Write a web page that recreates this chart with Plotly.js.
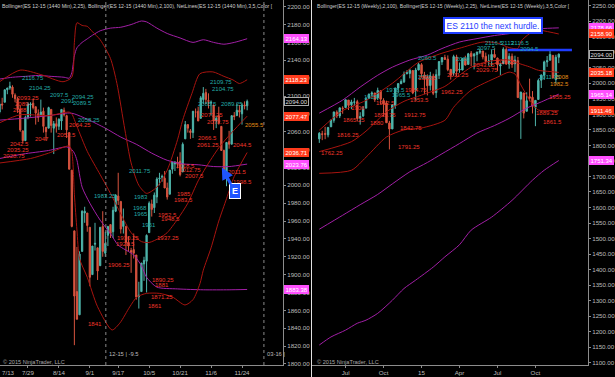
<!DOCTYPE html>
<html><head><meta charset="utf-8">
<script src="https://cdn.plot.ly/plotly-3.0.1.min.js"></script>
<style>html,body{margin:0;padding:0;background:#000;}#chart{width:615px;height:377px;}</style>
</head><body><div id="chart"></div>
<script>
// ---------------- LEFT PANEL: ES 12-15 daily (1440 Min) ----------------
const leftDates = ['7/14','7/15','7/16','7/17','7/20','7/21','7/22','7/23','7/24','7/27','7/28','7/29','7/30','7/31',
'8/3','8/4','8/5','8/6','8/7','8/10','8/11','8/12','8/13','8/14','8/17','8/18','8/19','8/20','8/21','8/24','8/25','8/26','8/27','8/28','8/31',
'9/1','9/2','9/3','9/4','9/8','9/9','9/10','9/11','9/14','9/15','9/16','9/17','9/18','9/21','9/22','9/23','9/24','9/25','9/28','9/29','9/30',
'10/1','10/2','10/5','10/6','10/7','10/8','10/9','10/12','10/13','10/14','10/15','10/16','10/19','10/20','10/21','10/22','10/23','10/26','10/27','10/28','10/29','10/30',
'11/2','11/3','11/4','11/5','11/6','11/9','11/10','11/11','11/12','11/13','11/16','11/17','11/18','11/19','11/20','11/23','11/24','11/25','11/27'];
const leftOpen = [2082,2091,2093,2107,2109,2110,2101,2097,2085,2061,2050,2076,2090,2092,
2088,2080,2079,2083,2065,2064,2085,2064,2069,2066,2072,2084,2078,2059,2017,1949,1881,1855,1926,1969,1969,
1953,1900,1934,1930,1910,1954,1924,1944,1956,1948,1971,1988,1982,1954,1954,1936,1927,1928,1922,1875,1881,
1912,1915,1947,1979,1975,1987,2007,2009,2008,1997,1990,2018,2024,2026,2027,2015,2052,2068,2061,2059,2082,2083,
2075,2096,2104,2095,2092,2090,2072,2078,2066,2039,2012,2049,2046,2078,2078,2084,2080,2090,2089];
const leftHigh = [2094,2098,2107,2109,2116,2112,2103,2099,2089,2061,2078,2093,2093,2097,
2088,2085,2096,2087,2065,2088,2085,2072,2076,2075,2085,2087,2079,2059,2017,1949,1931,1926,1972,1976,1969,
1953,1932,1958,1930,1953,1971,1948,1954,1956,1976,1990,2014,1982,1974,1954,1943,1930,1946,1922,1892,1913,
1920,1945,1982,1984,1992,2009,2014,2012,2016,2003,2017,2026,2027,2032,2037,2048,2072,2068,2063,2083,2086,2088,
2100,2110,2108,2103,2095,2090,2078,2088,2066,2040,2048,2061,2078,2082,2092,2090,2092,2094,2096];
const leftLow = [2080,2085,2093,2102,2107,2098,2093,2081,2060,2047,2050,2074,2077,2085,
2068,2071,2079,2059,2050,2064,2059,2035,2059,2062,2062,2077,2053,2018,1953,1821,1850,1855,1926,1958,1948,
1887,1900,1927,1894,1910,1920,1920,1932,1941,1941,1970,1978,1946,1946,1922,1926,1902,1918,1872,1862,1881,
1893,1880,1947,1965,1969,1980,2000,2004,1997,1984,1990,2013,2016,2019,2010,2015,2052,2059,2052,2053,2076,2072,
2075,2091,2091,2086,2078,2062,2064,2068,2039,2016,1999,2041,2046,2073,2078,2076,2068,2085,2084];
const leftClose = [2091,2090,2107,2109,2111,2102,2097,2085,2062,2050,2076,2091,2091,2087,
2081,2076,2082,2066,2060,2087,2067,2069,2066,2074,2085,2079,2062,2018,1954,1876,1850,1923,1971,1971,1955,
1897,1932,1935,1904,1953,1926,1935,1954,1946,1972,1989,1983,1951,1960,1936,1932,1925,1924,1875,1877,1913,
1916,1944,1980,1973,1989,2007,2008,2010,1997,1987,2017,2026,2026,2024,2012,2046,2068,2064,2059,2083,2082,2072,
2098,2103,2096,2094,2093,2072,2075,2070,2039,2017,2048,2046,2078,2077,2084,2082,2090,2089,2094];
const leftTickDates = ['7/29','8/14','9/1','9/17','10/5','10/21','11/6','11/24'];
const leftFirstTick = '7/13';

// Bollinger (25,2) and (100,2), x in bar numbers
const dBB25UpX = [1,9,17,25.6,29,30,31,33,35,37,40,44,46.5,49.6,52,55,58,62,66,70,72,75.6,78.7,83.7,88,91.5,94,97];
const dBB25Up  = [2116,2129,2124,2116,2121,2160,2182,2179,2178,2172,2163,2142,2114,2062,2025,2000,1991,1998,2017,2051,2073,2103,2125,2127,2122,2118,2114,2118.23];
const dBB25MidX = [1,9,20,28,29,31,35,40,44,48,52,56,59,63,66,70,74,78,81,86,91,97];
const dBB25Mid  = [2070,2079,2078,2082,2080,2066,2038,2012,1991,1968,1947,1937,1936,1941,1947,1962,1980,2005,2020,2042,2059,2077.47];
const dBB25LoX = [1,13,20,28,29,30,31,32,35,39,44.6,47.7,51.5,54.3,58,63,68,72.9,76,78.7,80,83,86,89,92,97];
const dBB25Lo  = [2025,2030,2036,2044,2038,1990,1950,1918,1897,1864,1838,1846,1864,1875,1879,1879,1875,1866,1872,1890,1905,1930,1960,1985,2010,2036.71];
const dBB100UpX = [1,6,11,16,21,26,28,29,30,31,33,35,37,40,44,48,52,56,58,62,66,71,76,80,84,88,92,97];
const dBB100Up  = [2119,2121,2122,2123,2122,2121,2120,2126,2145,2154,2160,2164,2168,2173,2176,2177,2180,2184,2183,2176,2170,2165,2160,2163,2160,2158,2160,2164.13];
const dBB100MidX = [1,10,20,28,30,35,42,48,54,60,66,72,78,84,90,97];
const dBB100Mid  = [2073,2075,2078,2081,2080,2074,2064,2054,2046,2036,2028,2024,2023,2021,2021,2023.76];
const dBB100LoX = [1,10,20,27,29,30,31,33,36,40,44,47,53,56,58,62,70,80,90,97];
const dBB100Lo  = [2030,2035,2039,2043,2040,2036,2028,1998,1980,1961,1946,1933,1922,1910,1897,1886,1884,1883,1883,1883.38];

// roll markers (bar numbers)
const dRollX = [42.2, 103.5];
const dRollText = ['12-15 | -9.5', '03-16 |'];

// NetLines labels on daily chart: text, bar, price, kind (c=cyan r=red o=orange)
const dLblText = ['2116.75','2104.25','2097.5','2091','2094.25','2089.5','2093.25','2089','2088','2058.25','2064.25',
'2109.75','2104.75','2085.5','2089.25','2077.25','2072.75','2055.5','2042.5','2035.25','2028.75','2047','2052.5',
'2011.75','1983.25','1983','1968','1965','1951','2018.5','2012.75','2007.5','2066.5','2061.25','2044.5','2011.5','1998.5',
'1985','1983.5','1952.5','1948.5','1937.25','1930.25','1928.5','1906.25','1890.25','1881','1871.25','1861','1841'];
const dLblX = [14,16.7,24.4,27.5,33.3,33.3,12,9.7,8.9,35.7,32.2,
86.8,87.6,81.8,91.1,83.3,85.7,99.8,8.9,8.1,6.6,17.4,27.1,
55.4,41.9,55.8,55.4,55.8,58.9,72.9,74.8,76.7,81.8,81.8,95.3,93.4,95,
72.5,72.5,66.3,67.1,66.3,50.8,50,47.3,64.3,63.9,63.9,61.2,38];
const dLblY = [2120,2109,2101,2094,2099,2092,2098,2091,2084,2073,2067,
2116,2108,2091,2091,2079,2071,2067,2046,2040,2033,2052,2056,
2016,1988,1987,1975,1968,1956,2022,2017,2010,2053,2045,2045,2015,2004,
1990,1984,1967,1962,1941,1941,1934,1911,1894,1888,1875,1865,1845];
const dLblKind = ['c','c','c','c','c','c','r','r','r','c','r',
'c','c','c','c','r','r','o','r','r','r','r','r',
'c','c','c','c','c','c','r','r','r','r','r','r','r','r',
'r','r','r','r','r','r','r','r','r','r','r','r','r'];

// axis price boxes (daily)
const dBoxVal = [2164.13, 2118.23, 2094.00, 2077.47, 2036.71, 2023.76, 1883.38];
const dBoxKind = ['m','r','g','r','r','m','m'];
const eCallout = {bar: 87.2, price: 2020, text: 'E'};

// ---------------- RIGHT PANEL: ES 12-15 weekly ----------------
const weekDates = ['2014-04-28','2014-05-05','2014-05-12','2014-05-19','2014-05-26','2014-06-02','2014-06-09','2014-06-16','2014-06-23',
'2014-06-30','2014-07-07','2014-07-14','2014-07-21','2014-07-28','2014-08-04','2014-08-11','2014-08-18','2014-08-25','2014-09-01','2014-09-08',
'2014-09-15','2014-09-22','2014-09-29','2014-10-06','2014-10-13','2014-10-20','2014-10-27','2014-11-03','2014-11-10','2014-11-17','2014-11-24','2014-12-01','2014-12-08',
'2014-12-15','2014-12-22','2014-12-29','2015-01-05','2015-01-12','2015-01-19','2015-01-26','2015-02-02','2015-02-09','2015-02-16','2015-02-23','2015-03-02','2015-03-09',
'2015-03-16','2015-03-23','2015-03-30','2015-04-06','2015-04-13','2015-04-20','2015-04-27','2015-05-04','2015-05-11','2015-05-18','2015-05-25','2015-06-01','2015-06-08',
'2015-06-15','2015-06-22','2015-06-29','2015-07-06','2015-07-13','2015-07-20','2015-07-27','2015-08-03','2015-08-10','2015-08-17','2015-08-24','2015-08-31','2015-09-07',
'2015-09-14','2015-09-21','2015-09-28','2015-10-05','2015-10-12','2015-10-19','2015-10-26','2015-11-02','2015-11-09','2015-11-16','2015-11-23'];
const wOpen = [1821,1837,1838,1834,1860,1881,1907,1895,1920,
1922,1946,1931,1939,1941,1888,1895,1920,1953,1965,1969,
1953,1976,1945,1937,1872,1853,1929,1985,1999,2005,2031,2032,2041,
1978,2043,2060,2027,2019,1993,2023,1970,2026,2069,2083,2078,2045,
2033,2085,2043,2043,2080,2061,2097,2088,2093,2100,2104,2087,2071,
2075,2093,2081,2056,2063,2109,2062,2087,2063,2073,1949,1969,1910,
1957,1955,1923,1948,2010,2026,2069,2075,2090,2012,2084];
const wHigh = [1843,1847,1860,1859,1882,1908,1913,1921,1926,
1947,1946,1947,1953,1947,1907,1926,1956,1967,1974,1969,
1986,1976,1952,1944,1879,1932,1985,2001,2013,2038,2042,2046,2043,
2050,2066,2065,2037,2029,2037,2031,2045,2070,2083,2092,2090,2045,
2092,2092,2067,2081,2089,2098,2104,2098,2101,2112,2104,2099,2093,
2109,2112,2083,2065,2116,2116,2097,2096,2089,2085,1972,1969,1971,
2015,1975,1946,2015,2028,2073,2088,2110,2090,2092,2096];
const wLow = [1808,1817,1820,1826,1859,1873,1888,1888,1902,
1920,1914,1917,1927,1878,1867,1891,1920,1951,1956,1940,
1946,1932,1893,1873,1787,1853,1918,1968,1997,2001,2029,2016,1965,
1945,2042,2019,1965,1961,1977,1962,1953,2014,2059,2076,2039,2012,
2025,2023,2034,2042,2057,2061,2055,2045,2071,2094,2077,2064,2057,
2055,2081,2040,2027,2063,2060,2047,2050,2036,1954,1821,1887,1910,
1942,1903,1862,1948,1985,2011,2053,2072,2016,1999,2065];
const wClose = [1839,1836,1836,1858,1882,1908,1895,1921,1919,
1947,1929,1940,1940,1887,1893,1917,1950,1965,1969,1947,
1977,1949,1934,1873,1853,1931,1985,1999,2006,2030,2034,2042,1969,
2043,2061,2031,2017,1992,2024,1968,2028,2070,2083,2077,2044,2026,
2086,2039,2045,2080,2059,2095,2086,2094,2101,2104,2085,2070,2072,
2093,2084,2060,2060,2110,2062,2087,2061,2075,1954,1972,1904,1944,
1952,1926,1945,2009,2027,2069,2073,2093,2017,2084,2094];
const wTickDates = ['2014-06-30','2014-09-29','2014-12-29','2015-03-30','2015-06-29','2015-09-28'];
const wTickText = ['Jul','Oct','15','Apr','Jul','Oct'];
const wFirstWeekOffset = 9; // week '2014-06-30' is week 0

const wBB100UpX = [-9,-1,5,11,16,22,28,33,39,45,51,56,62,67,73];
const wBB100Up  = [1904,1946,1988,2026,2052,2075,2091,2112,2133,2144,2154,2160,2170,2176,2178.66];
const wBB100MidX = [-9,-1,5,11,16,22,28,33,39,45,51,56,62,67,73];
const wBB100Mid  = [1530,1575,1609,1642,1676,1715,1745,1773,1806,1840,1864,1887,1920,1940,1965.14];
const wBB100LoX = [-9,-5,0,4,7,11,16,20,24,30,34,39,43,50,57,64,68,73];
const wBB100Lo  = [1157,1183,1205,1227,1237,1259,1301,1339,1366,1408,1441,1480,1527,1569,1623,1688,1720,1751.34];
const wBB25UpX = [-9,-1,7,16,25,33,39,47,52,56,59,60,63,66,70,73];
const wBB25Up  = [1849,1912,1945,2000,2068,2097,2113,2133,2130,2115,2112,2135,2160,2171,2165,2158.90];
const wBB25MidX = [-9,2,7,14,20,26,34,39,43,47,52,56,60,63,66,70,73];
const wBB25Mid  = [1780,1812,1846,1908,1942,1962,1990,2026,2052,2066,2075,2075,2062,2053,2042,2038,2035.18];
const wBB25LoX = [-9,2,7,14,20,26,34,37,43,52,56,58,60,63,66,70,73];
const wBB25Lo  = [1710,1720,1762,1827,1850,1856,1881,1923,1978,2020,2036,2030,1995,1946,1914,1912,1911.46];

const hurdleX = [55.5, 77.5];
const hurdleY = [2107, 2107];
const hurdleText = 'ES 2110 the next hurdle.';

const wLblText = ['2080','2097.5','2116.5','2113','2116.5','2094.5','2060.5','1978.5','1965.5','1925','2011.75','2000',
'2011.25','2043.25','2029.75','2029.25','1983.5','1964.75','1953.5','1962.25','1912.5','1912.75','1895.75','1906','1880','1865.25',
'1842.75','1816.25','1791.25','1762.25','1889.25','1861.5','1955.25','2008','1982.5'];
const wLblX = [40.2,48.4,51,55.5,60,63.1,28.2,17,19,8.8,70,27.2,
38.5,47.4,48.4,54.6,28.2,24.1,25.4,36.4,13.5,23.7,13.5,4.2,10.7,2.8,
22.4,0.8,21.7,-4.7,69,71,73.4,74.1,73.4];
const wLblY = [2078,2113,2130,2130,2130,2110,2081,1978,1962,1955,2020,2020,
2026,2059,2043,2069,2017,1978,1946,1972,1936,1898,1898,1920,1872,1882,
1856,1833,1795,1775,1904,1875,1955,2020,1998];
const wLblKind = ['c','c','c','c','c','c','c','c','c','c','c','c',
'r','r','r','r','r','r','r','r','r','r','r','r','r','r',
'r','r','r','r','r','r','r','o','o'];

const wBoxVal = [2178.66, 2158.90, 2094.00, 2035.18, 1965.14, 1911.46, 1751.34];
const wBoxKind = ['m','r','g','r','m','r','m'];

// ---------------- drawing ----------------
const FONT = 'Liberation Sans, Arial, sans-serif';
const UP = '#4fb5ab', DN = '#d8543f';
const RED = '#a8140f', PUR = '#a21fa6';
const LBL = {c:'#23aaa6', r:'#f0362a', o:'#e58e16'};
const BOX = {m:['#ff4fff','#ffffff','#ff4fff'], r:['#ff3b1c','#ffffff','#ff3b1c'], g:['#000000','#dddddd','#aaaaaa']};

const dX = leftDates.map((d,i)=>i+1);
const wX = weekDates.map((d,i)=>i-wFirstWeekOffset);

function candle(x,o,h,l,c,xa,ya){
  return {type:'candlestick', x:x, open:o, high:h, low:l, close:c, xaxis:xa, yaxis:ya,
    increasing:{line:{color:UP,width:1}, fillcolor:UP},
    decreasing:{line:{color:DN,width:1}, fillcolor:DN},
    whiskerwidth:0, hoverinfo:'skip', showlegend:false};
}
function line(x,y,color,xa,ya,w){
  return {type:'scatter', mode:'lines', x:x, y:y, xaxis:xa, yaxis:ya,
    line:{color:color, width:w||1, shape:'spline', smoothing:0.7}, hoverinfo:'skip', showlegend:false};
}
const traces = [
  line(dBB100UpX,dBB100Up,PUR,'x','y'), line(dBB100MidX,dBB100Mid,PUR,'x','y'), line(dBB100LoX,dBB100Lo,PUR,'x','y'),
  line(dBB25UpX,dBB25Up,RED,'x','y'), line(dBB25MidX,dBB25Mid,RED,'x','y'), line(dBB25LoX,dBB25Lo,RED,'x','y'),
  candle(dX,leftOpen,leftHigh,leftLow,leftClose,'x','y'),
  line(wBB100UpX,wBB100Up,PUR,'x2','y2'), line(wBB100MidX,wBB100Mid,PUR,'x2','y2'), line(wBB100LoX,wBB100Lo,PUR,'x2','y2'),
  line(wBB25UpX,wBB25Up,RED,'x2','y2'), line(wBB25MidX,wBB25Mid,RED,'x2','y2'), line(wBB25LoX,wBB25Lo,RED,'x2','y2'),
  candle(wX,wOpen,wHigh,wLow,wClose,'x2','y2'),
  {type:'scatter', mode:'lines', x:hurdleX, y:hurdleY, xaxis:'x2', yaxis:'y2', line:{color:'#1f3dff', width:2.5}, hoverinfo:'skip', showlegend:false}
];

const PH = 365; // plot-area height in px
const py = p => (PH - p) / PH;
const px = p => p / 615;

const ann = [];
function lbl(t,x,y,k,xa,ya){
  ann.push({text:t, x:x, y:y, xref:xa, yref:ya, showarrow:false, font:{family:FONT,size:6,color:LBL[k]}, xanchor:'center', yanchor:'middle'});
}
dLblText.forEach((t,i)=>lbl(t,dLblX[i],dLblY[i],dLblKind[i],'x','y'));
wLblText.forEach((t,i)=>lbl(t,wLblX[i],wLblY[i],wLblKind[i],'x2','y2'));

function box(v,k,xpaper,ya){
  const b = BOX[k];
  ann.push({text:v.toFixed(2), x:xpaper, y:v, xref:'paper', yref:ya, xanchor:'left', yanchor:'middle', showarrow:false,
    font:{family:FONT,size:6,color:b[1]}, bgcolor:b[0], bordercolor:b[2], borderwidth:1, borderpad:0.5});
}
dBoxVal.forEach((v,i)=>box(v,dBoxKind[i],px(284),'y'));
wBoxVal.forEach((v,i)=>box(v,wBoxKind[i],px(589),'y2'));

// headers
ann.push({text:'Bollinger(ES 12-15 (1440 Min),2,25), Bollinger(ES 12-15 (1440 Min),2,100), NetLines(ES 12-15 (1440 Min),3,5,Color [',
  x:px(0), y:py(6), xref:'paper', yref:'paper', xanchor:'left', yanchor:'middle', showarrow:false, font:{family:FONT,size:5.2,color:'#cfcfcf'}});
ann.push({text:'Bollinger(ES 12-15 (Weekly),2,100), Bollinger(ES 12-15 (Weekly),2,25), NetLines(ES 12-15 (Weekly),3,5,Color [',
  x:px(315), y:py(6), xref:'paper', yref:'paper', xanchor:'left', yanchor:'middle', showarrow:false, font:{family:FONT,size:5.1,color:'#cfcfcf'}});
// copyrights
[0, 314].forEach(p=>ann.push({text:'© 2015 NinjaTrader, LLC', x:px(p+1), y:py(362), xref:'paper', yref:'paper', xanchor:'left', yanchor:'middle', showarrow:false, font:{family:FONT,size:5.6,color:'#aaaaaa'}}));
// roll labels
dRollX.forEach((x,i)=>ann.push({text:dRollText[i], x:x, y:py(354), xref:'x', yref:'paper', xanchor:'left', yanchor:'middle', xshift:1, showarrow:false, font:{family:FONT,size:5.8,color:'#bbbbbb'}}));
// first date label (partly off the left edge)
ann.push({text:leftFirstTick, x:0, y:-0.006, xref:'paper', yref:'paper', xanchor:'left', yanchor:'top', showarrow:false, font:{family:FONT,size:6.2,color:'#bbbbbb'}});
// E callout
ann.push({text:'<b>'+eCallout.text+'</b>', x:eCallout.bar, y:eCallout.price, xref:'x', yref:'y', showarrow:true, ax:13, ay:24,
  arrowhead:2, arrowsize:0.8, arrowwidth:3, arrowcolor:'#1f55ff', font:{family:FONT,size:9,color:'#ffffff'},
  bgcolor:'#1f55ff', bordercolor:'#ffffff', borderwidth:1, borderpad:2});
// hurdle note
ann.push({text:hurdleText, x:px(493), y:py(25), xref:'paper', yref:'paper', showarrow:false, xanchor:'center', yanchor:'middle',
  font:{family:FONT,size:8.5,color:'#1f3dff'}, bgcolor:'#ffffff', bordercolor:'#1f3dff', borderwidth:2, borderpad:1.5});

const shapes = [];
dRollX.forEach(x=>shapes.push({type:'line', xref:'x', yref:'paper', x0:x, x1:x, y0:0, y1:1, line:{color:'#8a8a8a', width:1, dash:'dot'}}));
shapes.push({type:'line', xref:'paper', yref:'paper', x0:px(311.5), x1:px(311.5), y0:-12/PH, y1:1, line:{color:'#e0e0e0', width:1}});

const axFont = {family:FONT, size:6.2, color:'#bdbdbd'};
const common = {showgrid:false, zeroline:false, showline:true, linecolor:'#8c8c8c', linewidth:1, ticks:'outside', ticklen:2, tickcolor:'#8c8c8c', tickfont:axFont, fixedrange:true};

const dTickVals = leftTickDates.map(d=>leftDates.indexOf(d)+1);
const wTickVals = wTickDates.map(d=>weekDates.indexOf(d)-wFirstWeekOffset);

const layout = {
  width:615, height:377, margin:{l:0,r:0,t:0,b:12},
  paper_bgcolor:'#000', plot_bgcolor:'#000', showlegend:false, hovermode:false,
  font:{family:FONT, color:'#bbb'},
  xaxis: Object.assign({}, common, {domain:[0, px(283)], range:[1.16, 110.9], anchor:'y', tickmode:'array', tickvals:dTickVals, ticktext:leftTickDates, rangeslider:{visible:false}}),
  yaxis: Object.assign({}, common, {domain:[0,1], range:[1798.8, 2207.5], anchor:'x', side:'right', tick0:1800, dtick:20, tickformat:'.2f'}),
  xaxis2: Object.assign({}, common, {domain:[px(312), px(588)], range:[-11.5, 83.0], anchor:'y2', tickmode:'array', tickvals:wTickVals, ticktext:wTickText, rangeslider:{visible:false}}),
  yaxis2: Object.assign({}, common, {domain:[0,1], range:[1092.6, 2268.4], anchor:'x2', side:'right', tick0:1100, dtick:50, tickformat:'.2f'}),
  annotations: ann, shapes: shapes
};
Plotly.newPlot('chart', traces, layout, {staticPlot:true, displayModeBar:false});
</script></body></html>
